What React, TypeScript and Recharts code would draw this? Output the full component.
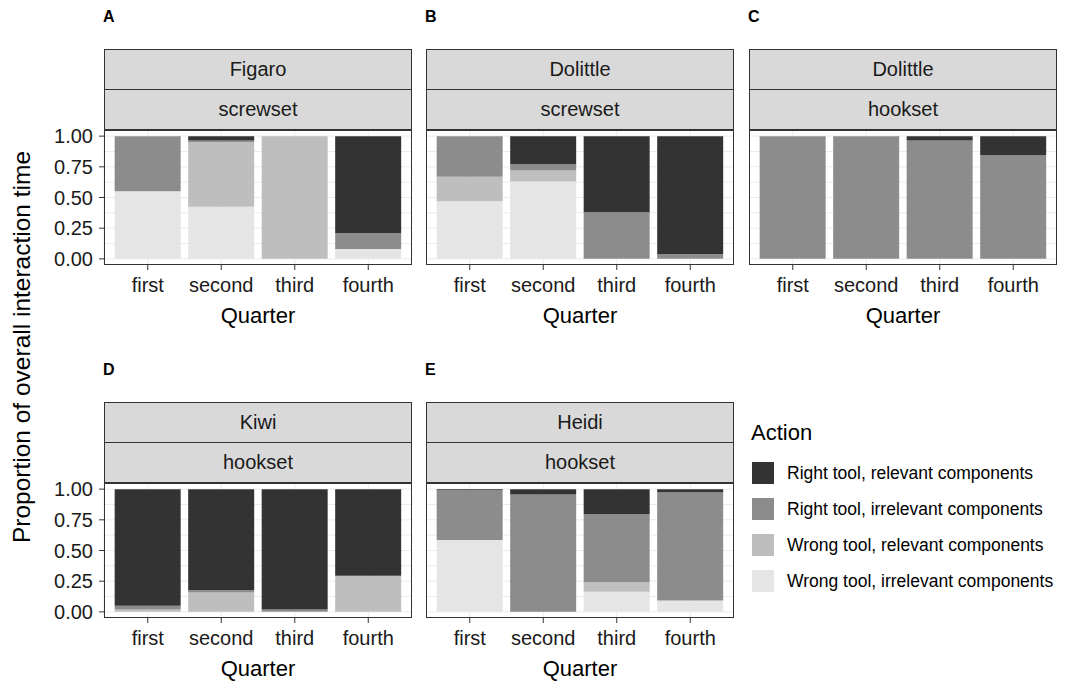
import { BarChart, Bar, XAxis, YAxis, CartesianGrid } from 'recharts'

// quarters on the x axis, one facet per robot / set
const quarters = ['first', 'second', 'third', 'fourth']
const panelLetters = ['A', 'B', 'C', 'D', 'E']
const robots = ['Figaro', 'Dolittle', 'Dolittle', 'Kiwi', 'Heidi']
const toolSets = ['screwset', 'screwset', 'hookset', 'hookset', 'hookset']

// proportions per panel (A..E), per quarter
const wrongIrrelevant = [
    [0.55, 0.425, 0, 0.08],
    [0.47, 0.63, 0, 0],
    [0, 0, 0, 0],
    [0, 0, 0, 0],
    [0.585, 0, 0.164, 0.093],
]
const wrongRelevant = [
    [0, 0.525, 1, 0],
    [0.2, 0.09, 0, 0],
    [0, 0, 0, 0],
    [0.02, 0.157, 0, 0.295],
    [0, 0, 0.079, 0],
]
const rightIrrelevant = [
    [0.45, 0.015, 0, 0.13],
    [0.33, 0.05, 0.38, 0.04],
    [1, 1, 0.965, 0.845],
    [0.03, 0.022, 0.02, 0],
    [0.405, 0.957, 0.552, 0.882],
]
const rightRelevant = [
    [0, 0.035, 0, 0.79],
    [0, 0.23, 0.62, 0.96],
    [0, 0, 0.035, 0.155],
    [0.95, 0.821, 0.98, 0.705],
    [0.01, 0.043, 0.205, 0.025],
]

const yTicks = [0, 0.25, 0.5, 0.75, 1]
const gridValues = [0, 0.125, 0.25, 0.375, 0.5, 0.625, 0.75, 0.875, 1]

// legend order top to bottom
const actions = [
    { key: 'rr', label: 'Right tool, relevant components', color: '#333333' },
    { key: 'ri', label: 'Right tool, irrelevant components', color: '#8c8c8c' },
    { key: 'wr', label: 'Wrong tool, relevant components', color: '#bebebe' },
    { key: 'wi', label: 'Wrong tool, irrelevant components', color: '#e5e5e5' },
]

const PLOT_W = 308
const PLOT_H = 135
const X_AXIS_H = 34
const Y_AXIS_W = 70
const TOP_PAD = 14 // room above the plot so the 1.00 label is not clipped
const colLeft = [104, 426, 749]
const rowTop = [49, 402] // top of the first strip
const STRIP_H = 41

function buildRows(p: number) {
    return quarters.map((q, i) => ({
        q,
        wi: wrongIrrelevant[p][i],
        wr: wrongRelevant[p][i],
        ri: rightIrrelevant[p][i],
        rr: rightRelevant[p][i],
    }))
}

interface PanelProps {
    index: number
    left: number
    top: number
    showY: boolean
}

function Panel({ index, left, top, showY }: PanelProps) {
    const plotTop = top + STRIP_H * 2 - 1
    const yW = showY ? Y_AXIS_W : 0
    const stripStyle = {
        position: 'absolute' as const,
        left,
        width: PLOT_W,
        height: STRIP_H,
        boxSizing: 'border-box' as const,
        border: '1px solid #333333',
        background: '#d9d9d9',
        color: '#1a1a1a',
        fontSize: 20,
        display: 'flex',
        alignItems: 'center',
        justifyContent: 'center',
    }
    return (
        <>
            <div style={{ position: 'absolute', left: left - 1, top: top - 41, fontSize: 16, fontWeight: 'bold', color: '#000' }}>
                {panelLetters[index]}
            </div>
            <div style={{ position: 'absolute', left: left - yW, top: plotTop - TOP_PAD }}>
                <BarChart
                    width={PLOT_W + yW}
                    height={PLOT_H + X_AXIS_H + TOP_PAD}
                    data={buildRows(index)}
                    margin={{ top: TOP_PAD, right: 0, bottom: 0, left: 0 }}
                    barCategoryGap="5%"
                >
                    <CartesianGrid stroke="#ebebeb" horizontalValues={gridValues} />
                    <XAxis
                        dataKey="q"
                        height={X_AXIS_H}
                        padding={{ left: 7, right: 7 }}
                        axisLine={false}
                        tickSize={5}
                        tickMargin={8}
                        tickLine={{ stroke: '#333333' }}
                        tick={{ fill: '#1a1a1a', fontSize: 20 }}
                        interval={0}
                    />
                    <YAxis
                        type="number"
                        domain={[-0.05, 1.05]}
                        ticks={yTicks}
                        interval={0}
                        allowDataOverflow
                        hide={!showY}
                        width={Y_AXIS_W}
                        axisLine={false}
                        tickSize={5}
                        tickMargin={6}
                        tickLine={{ stroke: '#333333' }}
                        tick={{ fill: '#1a1a1a', fontSize: 20 }}
                        tickFormatter={(v: number) => v.toFixed(2)}
                    />
                    <Bar dataKey="wi" stackId="a" fill="#e5e5e5" isAnimationActive={false} />
                    <Bar dataKey="wr" stackId="a" fill="#bebebe" isAnimationActive={false} />
                    <Bar dataKey="ri" stackId="a" fill="#8c8c8c" isAnimationActive={false} />
                    <Bar dataKey="rr" stackId="a" fill="#333333" isAnimationActive={false} />
                </BarChart>
            </div>
            <div style={{ ...stripStyle, top }}>{robots[index]}</div>
            <div style={{ ...stripStyle, top: top + STRIP_H - 1 }}>{toolSets[index]}</div>
            <div
                style={{
                    position: 'absolute',
                    left,
                    top: plotTop,
                    width: PLOT_W,
                    height: PLOT_H,
                    boxSizing: 'border-box',
                    border: '1px solid #333333',
                    pointerEvents: 'none',
                }}
            />
            <div
                style={{
                    position: 'absolute',
                    left,
                    width: PLOT_W,
                    top: plotTop + PLOT_H + 38,
                    textAlign: 'center',
                    fontSize: 22,
                    color: '#000',
                }}
            >
                Quarter
            </div>
        </>
    )
}

export default function App() {
    return (
        <div
            style={{
                position: 'absolute',
                left: 0,
                top: 0,
                width: 1084,
                height: 685,
                background: '#ffffff',
                overflow: 'hidden',
                fontFamily: '"Liberation Sans", Arial, sans-serif',
            }}
        >
            {panelLetters.map((_, i) => (
                <Panel key={i} index={i} left={colLeft[i % 3]} top={rowTop[i < 3 ? 0 : 1]} showY={i % 3 === 0} />
            ))}
            <div
                style={{
                    position: 'absolute',
                    left: 22,
                    top: 347,
                    transform: 'translate(-50%, -50%) rotate(-90deg)',
                    whiteSpace: 'nowrap',
                    fontSize: 24.5,
                    color: '#000',
                }}
            >
                Proportion of overall interaction time
            </div>
            <div style={{ position: 'absolute', left: 751, top: 420, fontSize: 22, color: '#000' }}>Action</div>
            {actions.map((a, i) => (
                <div key={a.key} style={{ position: 'absolute', left: 752, top: 462 + i * 36, display: 'flex', alignItems: 'center' }}>
                    <div style={{ width: 22, height: 22, background: a.color }} />
                    <div style={{ marginLeft: 13, fontSize: 17.5, color: '#000', whiteSpace: 'nowrap' }}>{a.label}</div>
                </div>
            ))}
        </div>
    )
}
